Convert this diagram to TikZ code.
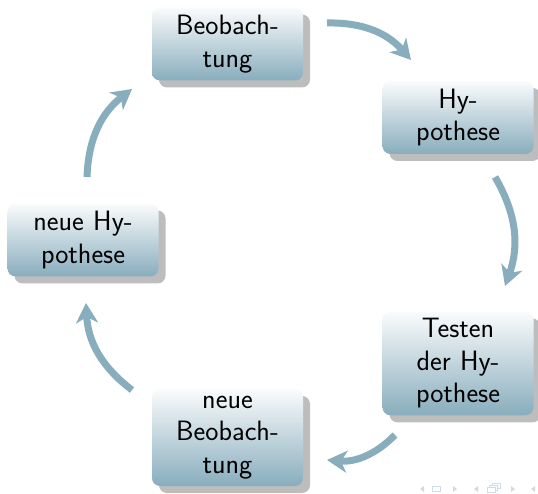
\documentclass[tikz,border=0pt]{standalone}
\usetikzlibrary{arrows.meta,shadows}
\definecolor{blaugrau}{RGB}{136,173,189}
\definecolor{navgrau}{RGB}{208,220,227}
\tikzset{
  kasten/.style={rectangle, rounded corners=8pt, minimum width=151pt,
    minimum height=73pt, text width=137pt, align=center, inner sep=7pt,
    top color=white!96!blaugrau, bottom color=blaugrau,
    font=\sffamily\fontsize{28}{32.5}\selectfont,
    drop shadow={shadow xshift=7pt, shadow yshift=-7pt, fill=black!26, opacity=1}},
  pfeil/.style={blaugrau, line width=7pt,
    -{Stealth[length=20pt,width=22pt,inset=6pt]}},
  nav/.style={navgrau, line width=0.7pt},
}

\begin{document}
\begin{tikzpicture}[x=1pt,y=1pt]
\useasboundingbox (0,0) rectangle (538,494);

% Knoten im Kreis
\node[kasten] (beob) at (227.5,450) {Beobach-\\tung};
\node[kasten] (hyp) at (458,376.5) {Hy-\\pothese};
\node[kasten] (test) at (458,130.5) {Testen\\der Hy-\\pothese};
\node[kasten] (nbeob) at (227.5,56.5) {neue\\Beobach-\\tung};
\node[kasten] (nhyp) at (83,254) {neue Hy-\\pothese};

% Enden der Pfeile
\coordinate (a1) at (327,471); \coordinate (b1) at (411,434);
\coordinate (a2) at (495,317); \coordinate (b2) at (505,208);
\coordinate (a3) at (395,59);  \coordinate (b3) at (327,34);
\coordinate (a4) at (132,104); \coordinate (b4) at (86,191);
\coordinate (a5) at (87,317);  \coordinate (b5) at (132,405);

% Pfeile
\draw[pfeil] (a1) to[bend left=25] (b1);
\draw[pfeil] (a2) to[bend left=25] (b2);
\draw[pfeil] (a3) to[bend left=25] (b3);
\draw[pfeil] (a4) to[bend left=25] (b4);
\draw[pfeil] (a5) to[bend left=25] (b5);

% Navigationssymbole
\fill[navgrau] (424,8) -- (420,5) -- (424,2) -- cycle;
\draw[nav] (432,2.5) rectangle (440,7.5);
\fill[navgrau] (453,8) -- (457,5) -- (453,2) -- cycle;
\fill[navgrau] (478,8) -- (474,5) -- (478,2) -- cycle;
\draw[nav] (487,1.5) rectangle (495,6.5);
\draw[nav] (489.5,6.5) -- (489.5,8.5) -- (497.5,8.5) -- (497.5,3.5) -- (495,3.5);
\draw[nav] (492,8.5) -- (492,10.5) -- (500,10.5) -- (500,5.5) -- (497.5,5.5);
\fill[navgrau] (511,8) -- (515,5) -- (511,2) -- cycle;
\fill[navgrau] (535,8) -- (531,5) -- (535,2) -- cycle;
\end{tikzpicture}
\end{document}
